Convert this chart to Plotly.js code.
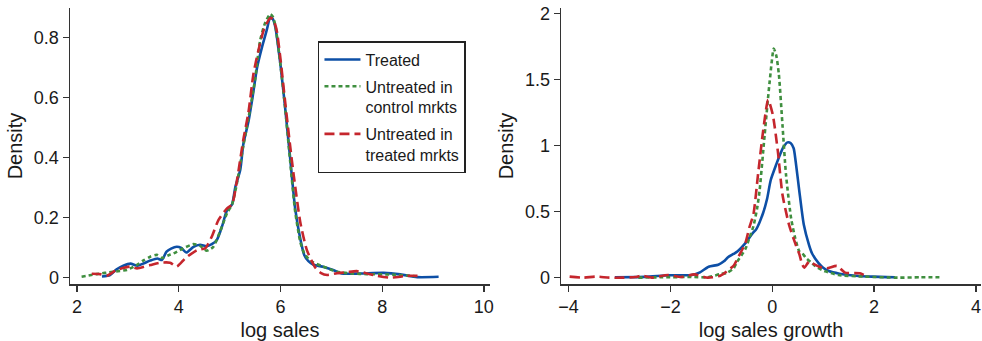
<!DOCTYPE html>
<html>
<head>
<meta charset="utf-8">
<script src="https://cdn.plot.ly/plotly-3.0.1.min.js"></script>
<style>html,body{margin:0;padding:0;background:#fff;}#chart{width:982px;height:341px;}</style>
</head>
<body>
<div id="chart"></div>
<script>
// ---- Data: left panel (log sales) ----
const seriesNames = ["Treated", "Untreated in<br>control mrkts", "Untreated in<br>treated mrkts"];

const salesTreatedX = [2.49,2.65,2.78,2.91,3.05,3.19,3.30,3.44,3.58,3.67,3.76,3.85,3.96,4.05,4.15,4.29,4.42,4.55,4.65,4.75,4.85,4.95,5.05,5.11,5.21,5.27,5.37,5.45,5.54,5.64,5.73,5.80,5.85,5.90,6.00,6.09,6.19,6.29,6.39,6.47,6.55,6.65,6.85,7.05,7.20,7.57,8.03,8.36,8.69,9.11];
const salesTreatedY = [0.004,0.009,0.028,0.040,0.047,0.040,0.047,0.057,0.064,0.059,0.087,0.097,0.103,0.099,0.084,0.103,0.110,0.105,0.112,0.126,0.170,0.225,0.245,0.300,0.360,0.445,0.520,0.600,0.700,0.770,0.825,0.868,0.862,0.835,0.710,0.570,0.400,0.230,0.130,0.075,0.055,0.043,0.036,0.025,0.014,0.014,0.016,0.011,0.002,0.003];

const salesCtrlX = [2.09,2.39,2.71,2.98,3.17,3.30,3.44,3.57,3.67,3.80,3.90,4.09,4.29,4.42,4.55,4.68,4.81,4.95,5.05,5.15,5.27,5.37,5.50,5.60,5.70,5.80,5.85,5.90,6.00,6.09,6.19,6.29,6.39,6.47,6.60,6.80,7.11,7.40,7.70,8.23,8.65];
const salesCtrlY = [0.003,0.012,0.020,0.026,0.042,0.057,0.070,0.076,0.066,0.075,0.081,0.098,0.112,0.106,0.090,0.103,0.153,0.215,0.245,0.320,0.440,0.530,0.660,0.790,0.850,0.879,0.870,0.840,0.710,0.570,0.390,0.220,0.120,0.080,0.055,0.040,0.020,0.014,0.012,0.010,0.005];

const salesTrtMktX = [2.29,2.45,2.58,2.78,3.04,3.18,3.44,3.63,3.83,3.96,4.13,4.36,4.52,4.65,4.78,4.95,5.05,5.15,5.27,5.37,5.47,5.57,5.68,5.80,5.85,5.92,6.00,6.09,6.19,6.26,6.39,6.52,6.68,6.80,6.92,7.11,7.30,7.50,7.70,7.90,8.16,8.49,8.75];
const salesTrtMktY = [0.013,0.012,0.006,0.026,0.037,0.031,0.042,0.050,0.050,0.037,0.065,0.092,0.098,0.137,0.192,0.231,0.245,0.330,0.460,0.550,0.680,0.760,0.830,0.866,0.862,0.830,0.730,0.590,0.440,0.343,0.185,0.092,0.035,0.015,0.009,0.015,0.018,0.022,0.014,0.006,0.000,0.006,0.006];

// ---- Data: right panel (log sales growth) ----
const growthTreatedX = [-3.09,-2.50,-2.03,-1.58,-1.42,-1.25,-1.06,-0.95,-0.87,-0.76,-0.68,-0.50,-0.40,-0.31,-0.18,-0.10,-0.03,0.08,0.15,0.22,0.30,0.36,0.42,0.46,0.53,0.62,0.72,0.78,0.91,1.00,1.11,1.32,1.64,1.96,2.41];
const growthTreatedY = [0.003,0.006,0.018,0.020,0.040,0.083,0.098,0.124,0.155,0.180,0.200,0.275,0.330,0.370,0.490,0.600,0.740,0.860,0.930,0.990,1.025,1.020,0.980,0.880,0.660,0.400,0.250,0.185,0.110,0.075,0.050,0.030,0.015,0.008,0.003];

const growthCtrlX = [-2.63,-2.18,-1.53,-1.27,-1.02,-0.89,-0.76,-0.69,-0.53,-0.45,-0.37,-0.30,-0.25,-0.15,-0.05,0.03,0.08,0.13,0.20,0.27,0.37,0.45,0.53,0.59,0.66,0.78,0.85,0.98,1.04,1.30,1.81,2.46,2.90,3.33];
const growthCtrlY = [0.000,0.003,0.005,0.003,0.028,0.036,0.070,0.120,0.215,0.300,0.390,0.520,0.655,1.080,1.490,1.735,1.680,1.540,1.160,0.780,0.450,0.300,0.200,0.185,0.150,0.110,0.086,0.058,0.048,0.020,0.008,0.000,0.003,0.003];

const growthTrtMktX = [-3.98,-3.72,-3.46,-3.20,-2.95,-2.69,-2.56,-2.37,-2.05,-1.79,-1.53,-1.27,-1.02,-0.82,-0.76,-0.66,-0.53,-0.45,-0.37,-0.28,-0.18,-0.08,0.01,0.11,0.20,0.33,0.46,0.53,0.59,0.63,0.72,0.78,0.91,1.07,1.27,1.43,1.72,1.80];
const growthTrtMktY = [0.008,0.000,0.008,0.000,0.000,0.005,0.015,0.000,0.020,0.005,0.025,0.000,0.015,0.070,0.090,0.162,0.260,0.380,0.480,0.780,1.110,1.348,1.235,0.957,0.630,0.400,0.250,0.180,0.098,0.075,0.121,0.110,0.085,0.071,0.089,0.038,0.033,0.020];

// ---- Ticks ----
const leftXTicks = [2,4,6,8,10];
const leftYTicks = [0,0.2,0.4,0.6,0.8];
const leftYLabels = ["0","0.2","0.4","0.6","0.8"];
const rightXTicks = [-4,-2,0,2,4];
const rightYTicks = [0,0.5,1,1.5,2];
const rightYLabels = ["0","0.5","1","1.5","2"];

const colors = ["#0d4fa6", "#3f8f3f", "#c5262d"];
const dashes = ["solid", "4px,3px", "10px,5px"];
const widths = [2.6, 2.6, 2.6];

function mk(x, y, i, xa, ya, showleg) {
  return {
    x: x, y: y, type: "scatter", mode: "lines",
    name: seriesNames[i], legendgroup: "g" + i, showlegend: showleg,
    xaxis: xa, yaxis: ya,
    line: {color: colors[i], width: widths[i], dash: dashes[i], shape: "spline", smoothing: 0.6},
    hoverinfo: "skip"
  };
}

const traces = [
  mk(salesTreatedX, salesTreatedY, 0, "x", "y", true),
  mk(salesCtrlX, salesCtrlY, 1, "x", "y", true),
  mk(salesTrtMktX, salesTrtMktY, 2, "x", "y", true),
  mk(growthTreatedX, growthTreatedY, 0, "x2", "y2", false),
  mk(growthCtrlX, growthCtrlY, 1, "x2", "y2", false),
  mk(growthTrtMktX, growthTrtMktY, 2, "x2", "y2", false)
];

const font = {family: "Liberation Sans, Arial, Helvetica, sans-serif", color: "#1a1a1a"};
const axisCommon = {
  showgrid: false, zeroline: false, showline: true, linecolor: "#333", linewidth: 1.5,
  ticks: "outside", ticklen: 6, tickwidth: 1.3, tickcolor: "#333",
  tickfont: {family: font.family, size: 18, color: "#1a1a1a"},
  automargin: false, fixedrange: true
};

const layout = {
  width: 982, height: 341,
  margin: {l: 70, r: 1, t: 8, b: 57},
  paper_bgcolor: "#fff", plot_bgcolor: "#fff",
  font: font,
  showlegend: true,
  legend: {
    x: 0.2722, y: 0.88, xanchor: "left", yanchor: "top",
    bordercolor: "#222", borderwidth: 1.5, bgcolor: "#fff",
    font: {family: font.family, size: 16, color: "#1a1a1a"},
    valign: "top", tracegroupgap: 3, itemwidth: 36
  },
  xaxis: Object.assign({}, axisCommon, {
    domain: [0, 0.461], anchor: "y", range: [1.862, 10.12],
    tickvals: leftXTicks, ticktext: leftXTicks.map(String),
    title: {text: "log sales", font: {family: font.family, size: 20, color: "#1a1a1a"}, standoff: 7}
  }),
  yaxis: Object.assign({}, axisCommon, {
    domain: [0, 1], anchor: "x", range: [-0.021, 0.899],
    tickvals: leftYTicks, ticktext: leftYLabels,
    title: {text: "Density", font: {family: font.family, size: 20, color: "#1a1a1a"}, standoff: 6}
  }),
  xaxis2: Object.assign({}, axisCommon, {
    domain: [0.539, 1], anchor: "y2", range: [-4.149, 4.1],
    tickvals: rightXTicks,
    title: {text: "log sales growth", font: {family: font.family, size: 20, color: "#1a1a1a"}, standoff: 7}
  }),
  yaxis2: Object.assign({}, axisCommon, {
    domain: [0, 1], anchor: "x2", range: [-0.048, 2.043],
    tickvals: rightYTicks, ticktext: rightYLabels,
    title: {text: "Density", font: {family: font.family, size: 20, color: "#1a1a1a"}, standoff: 6}
  })
};

Plotly.newPlot("chart", traces, layout, {displayModeBar: false, staticPlot: true});
</script>
</body>
</html>
